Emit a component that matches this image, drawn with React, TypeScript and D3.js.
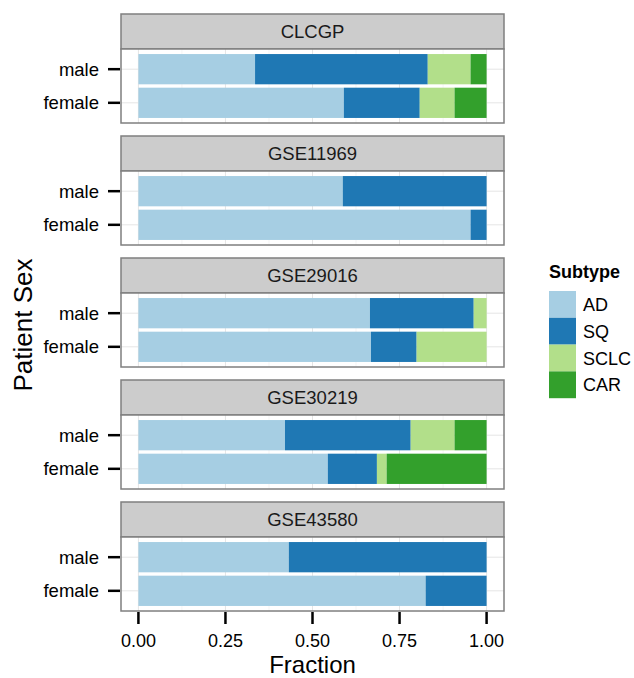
import React from "react";
import * as d3 from "d3";

const width = 634;
const height = 678;

const datasets = ["CLCGP", "GSE11969", "GSE29016", "GSE30219", "GSE43580"];
const sexes = ["male", "female"];
const subtypes = ["AD", "SQ", "SCLC", "CAR"];
const subtypeColors = ["#a6cee3", "#1f78b4", "#b2df8a", "#33a02c"];

// fraction of each subtype (AD, SQ, SCLC, CAR), one row per dataset
const maleFractions = [
  [0.335, 0.496, 0.123, 0.046],
  [0.587, 0.413, 0, 0],
  [0.665, 0.298, 0.037, 0],
  [0.421, 0.361, 0.126, 0.092],
  [0.432, 0.568, 0, 0]
];
const femaleFractions = [
  [0.59, 0.218, 0.1, 0.092],
  [0.954, 0.046, 0, 0],
  [0.668, 0.131, 0.201, 0],
  [0.544, 0.141, 0.028, 0.287],
  [0.825, 0.175, 0, 0]
];
const xTicks = [0, 0.25, 0.5, 0.75, 1];
const xMinor = [0.125, 0.375, 0.625, 0.875];

const font = "'Liberation Sans', Arial, Helvetica, sans-serif";

const panelLeft = 121;
const panelRight = 504;
const firstTop = 14;
const panelStep = 122;
const stripH = 35;
const bodyH = 74;

const x = d3.scaleLinear().domain([-0.05, 1.05]).range([panelLeft, panelRight]);
// discrete axis with 0.6 unit expansion on each side
const y = d3.scaleLinear().domain([0.4, 2.6]).range([0, bodyH]);
const barHalf = 0.45;

function Panel({ i }: { i: number }) {
  const top = firstTop + i * panelStep;
  const bodyTop = top + stripH;
  const rows = [maleFractions[i], femaleFractions[i]];
  return (
    <g>
      <rect x={panelLeft} y={top} width={panelRight - panelLeft} height={stripH}
        fill="#cccccc" stroke="#7f7f7f" strokeWidth={1.5} />
      <text x={(panelLeft + panelRight) / 2} y={top + stripH / 2 + 6.5}
        textAnchor="middle" fontSize={18.5} fill="#1a1a1a">{datasets[i]}</text>
      <g transform={`translate(0,${bodyTop})`}>
        <rect x={panelLeft} y={0} width={panelRight - panelLeft} height={bodyH} fill="#fff" />
        {xMinor.map(t => (
          <line key={"m" + t} x1={x(t)} x2={x(t)} y1={0} y2={bodyH} stroke="#f5f5f5" strokeWidth={1} />
        ))}
        {xTicks.map(t => (
          <line key={"g" + t} x1={x(t)} x2={x(t)} y1={0} y2={bodyH} stroke="#e5e5e5" strokeWidth={1} />
        ))}
        {sexes.map((s, k) => (
          <line key={"h" + s} x1={panelLeft} x2={panelRight} y1={y(k + 1)} y2={y(k + 1)} stroke="#e5e5e5" strokeWidth={1} />
        ))}
        {rows.map((vals, k) => {
          let acc = 0;
          return (
            <g key={k}>
              {vals.map((v, j) => {
                const x0 = acc;
                acc += v;
                if (v <= 0) return null;
                return (
                  <rect key={j} x={x(x0)} width={x(acc) - x(x0)}
                    y={y(k + 1 - barHalf)} height={y(k + 1 + barHalf) - y(k + 1 - barHalf)}
                    fill={subtypeColors[j]} />
                );
              })}
            </g>
          );
        })}
        <rect x={panelLeft} y={0} width={panelRight - panelLeft} height={bodyH}
          fill="none" stroke="#7f7f7f" strokeWidth={1.5} />
        {sexes.map((s, k) => (
          <g key={"t" + s}>
            <line x1={panelLeft - 13} x2={panelLeft - 1} y1={y(k + 1)} y2={y(k + 1)} stroke="#000" strokeWidth={2.5} />
            <text x={panelLeft - 22} y={y(k + 1) + 6.5} textAnchor="end" fontSize={18.5} fill="#000">{s}</text>
          </g>
        ))}
      </g>
    </g>
  );
}

export default function App() {
  const lastBottom = firstTop + 4 * panelStep + stripH + bodyH;
  return (
    <div style={{ position: "absolute", left: 0, top: 0 }}>
      <svg width={width} height={height} fontFamily={font} style={{ display: "block", background: "#fff" }}>
        {datasets.map((d, i) => <Panel key={d} i={i} />)}
        {xTicks.map(t => (
          <g key={t}>
            <line x1={x(t)} x2={x(t)} y1={lastBottom + 1} y2={lastBottom + 13} stroke="#000" strokeWidth={2.5} />
            <text x={x(t)} y={lastBottom + 36} textAnchor="middle" fontSize={18}>{d3.format(".2f")(t)}</text>
          </g>
        ))}
        <text x={(panelLeft + panelRight) / 2} y={height - 5} textAnchor="middle" fontSize={24}>Fraction</text>
        <text transform={`translate(32,325) rotate(-90)`} textAnchor="middle" fontSize={26}>Patient Sex</text>
        <g transform="translate(549,0)">
          <text x={0} y={278} fontSize={18} fontWeight="bold">Subtype</text>
          {subtypes.map((s, j) => (
            <g key={s}>
              <rect x={0} y={291 + j * 26.8} width={27} height={26.8} fill={subtypeColors[j]} />
              <text x={34} y={291 + j * 26.8 + 20} fontSize={18}>{s}</text>
            </g>
          ))}
        </g>
      </svg>
    </div>
  );
}
